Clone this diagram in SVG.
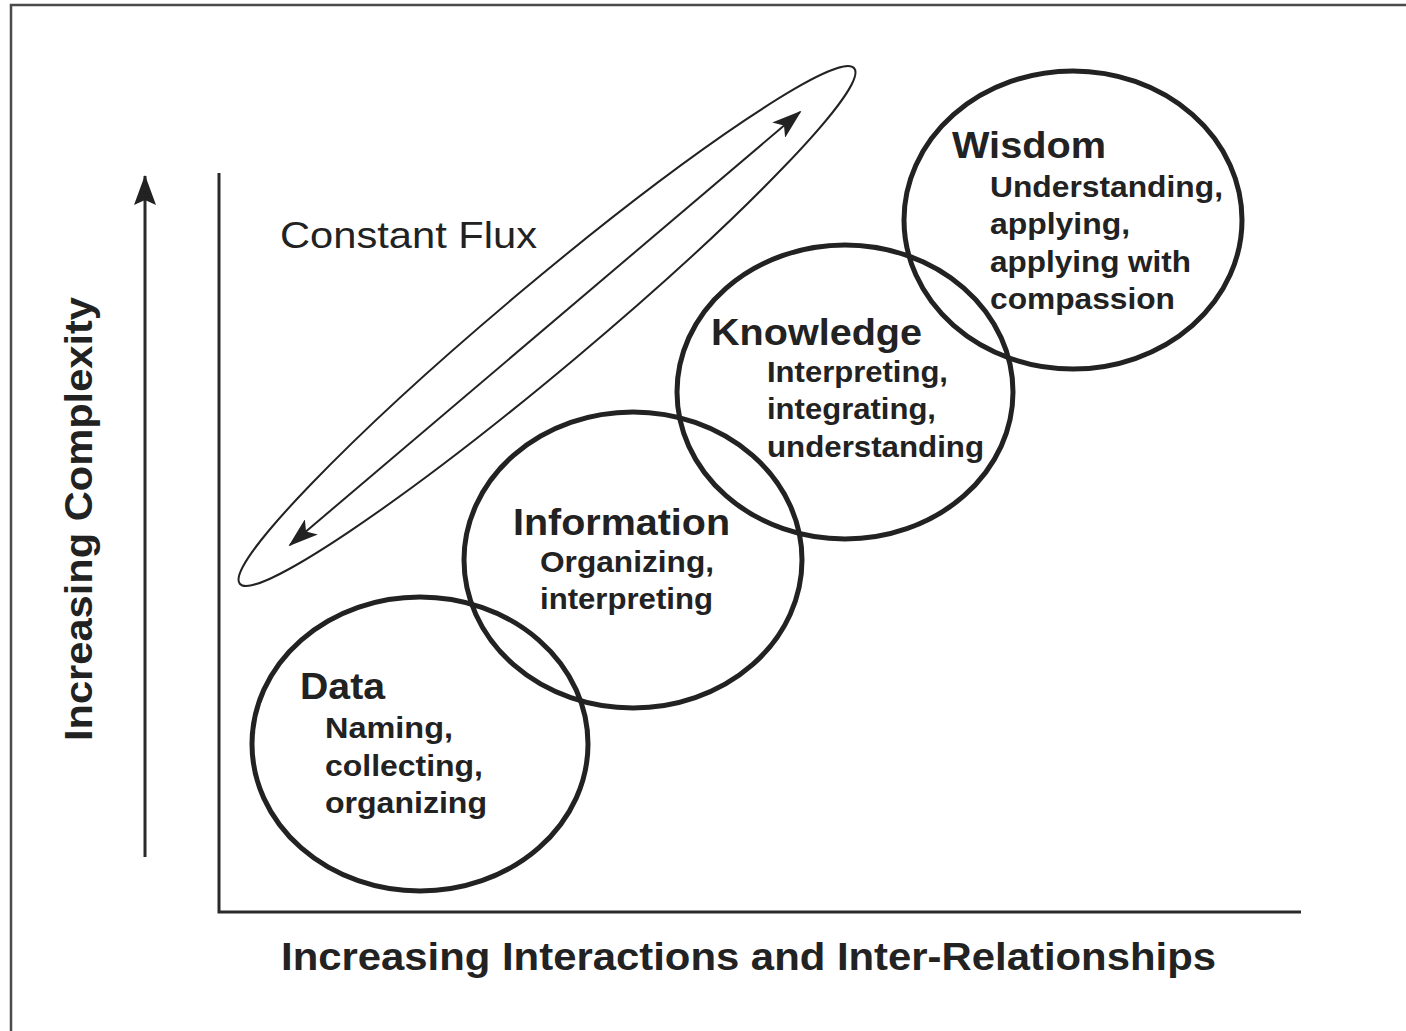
<svg xmlns="http://www.w3.org/2000/svg" width="1406" height="1031" viewBox="0 0 1406 1031">
  <style>
    .frame { stroke: #4a4a4a; stroke-width: 2.5; fill: none; }
    .axis { stroke: #2a2a2a; stroke-width: 3; fill: none; }
    .ring { stroke: #222; stroke-width: 5; fill: none; }
    .flux { stroke: #222; stroke-width: 2; fill: none; }
    .title { font-family: "Liberation Sans", Arial, sans-serif; font-weight: bold; font-size: 37px; fill: #222; }
    .sub { font-family: "Liberation Sans", Arial, sans-serif; font-weight: bold; font-size: 30px; fill: #222; }
    .axislabel { font-family: "Liberation Sans", Arial, sans-serif; font-weight: bold; font-size: 38px; fill: #222; }
    .note { font-family: "Liberation Sans", Arial, sans-serif; font-size: 36px; fill: #222; }
  </style>
  <defs>
    <marker id="head" viewBox="0 0 30 20" refX="28" refY="10" markerWidth="30" markerHeight="20" markerUnits="userSpaceOnUse" orient="auto-start-reverse">
      <path d="M0,0 L30,10 L0,20 L7,10 Z" fill="#222"/>
    </marker>
    <marker id="axhead" viewBox="0 0 30 22" refX="29" refY="11" markerWidth="30" markerHeight="22" markerUnits="userSpaceOnUse" orient="auto">
      <path d="M0,0 L30,11 L0,22 L5,11 Z" fill="#222"/>
    </marker>
  </defs>

  <rect width="1406" height="1031" fill="#fff"/>

  <!-- page border (top and left edges) -->
  <path class="frame" d="M11,1031 V5 H1406"/>

  <!-- axes and their labels -->
  <g id="axes">
    <path class="axis" d="M219,173 V912 H1301"/>
    <line class="axis" x1="145" y1="857" x2="145" y2="176" stroke-width="3" marker-end="url(#axhead)"/>
    <text class="axislabel" transform="translate(92,741) rotate(-90)" textLength="444" lengthAdjust="spacingAndGlyphs">Increasing Complexity</text>
    <text class="axislabel" x="281" y="970" textLength="935" lengthAdjust="spacingAndGlyphs">Increasing Interactions and Inter-Relationships</text>
  </g>

  <!-- connectors: the two-way flux arrow and its enclosing loop -->
  <g id="connectors">
    <ellipse class="flux" cx="547" cy="326" rx="401" ry="43" transform="rotate(-40 547 326)"/>
    <line class="flux" x1="290" y1="545" x2="800" y2="112" marker-start="url(#head)" marker-end="url(#head)"/>
    <text class="note" x="280" y="248" textLength="257" lengthAdjust="spacingAndGlyphs">Constant Flux</text>
  </g>

  <g id="data">
    <ellipse class="ring" cx="420" cy="744" rx="168" ry="147"/>
    <text class="title" x="300" y="699" textLength="85" lengthAdjust="spacingAndGlyphs">Data</text>
    <text class="sub" x="325" y="738" textLength="128" lengthAdjust="spacingAndGlyphs">Naming,</text>
    <text class="sub" x="325" y="776" textLength="158" lengthAdjust="spacingAndGlyphs">collecting,</text>
    <text class="sub" x="325" y="813" textLength="162" lengthAdjust="spacingAndGlyphs">organizing</text>
  </g>

  <g id="information">
    <ellipse class="ring" cx="633" cy="560" rx="169" ry="148"/>
    <text class="title" x="513" y="535" textLength="217" lengthAdjust="spacingAndGlyphs">Information</text>
    <text class="sub" x="540" y="572" textLength="174" lengthAdjust="spacingAndGlyphs">Organizing,</text>
    <text class="sub" x="540" y="609" textLength="173" lengthAdjust="spacingAndGlyphs">interpreting</text>
  </g>

  <g id="knowledge">
    <ellipse class="ring" cx="845" cy="392" rx="168" ry="147"/>
    <text class="title" x="711" y="345" textLength="211" lengthAdjust="spacingAndGlyphs">Knowledge</text>
    <text class="sub" x="767" y="382" textLength="181" lengthAdjust="spacingAndGlyphs">Interpreting,</text>
    <text class="sub" x="767" y="419" textLength="169" lengthAdjust="spacingAndGlyphs">integrating,</text>
    <text class="sub" x="767" y="457" textLength="217" lengthAdjust="spacingAndGlyphs">understanding</text>
  </g>

  <g id="wisdom">
    <ellipse class="ring" cx="1073" cy="220" rx="169" ry="149"/>
    <text class="title" x="952" y="158" textLength="154" lengthAdjust="spacingAndGlyphs">Wisdom</text>
    <text class="sub" x="990" y="197" textLength="233" lengthAdjust="spacingAndGlyphs">Understanding,</text>
    <text class="sub" x="990" y="234" textLength="140" lengthAdjust="spacingAndGlyphs">applying,</text>
    <text class="sub" x="990" y="272" textLength="201" lengthAdjust="spacingAndGlyphs">applying with</text>
    <text class="sub" x="990" y="309" textLength="185" lengthAdjust="spacingAndGlyphs">compassion</text>
  </g>
</svg>
